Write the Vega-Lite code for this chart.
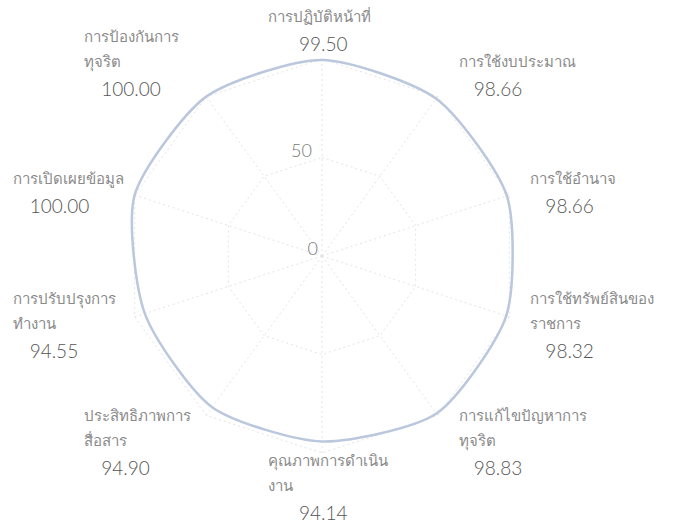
{
  "$schema": "https://vega.github.io/schema/vega-lite/v6.json",
  "width": 682,
  "height": 524,
  "padding": 0,
  "autosize": {"type": "none"},
  "background": "white",
  "config": {"view": {"stroke": null}},
  "data": {
    "values": [
      {"idx": 0, "label": "\nการปฏิบัติหน้าที่", "value": 99.5},
      {"idx": 1, "label": "\nการใช้งบประมาณ", "value": 98.66},
      {"idx": 2, "label": "\nการใช้อำนาจ", "value": 98.66},
      {"idx": 3, "label": "การใช้ทรัพย์สินของ\nราชการ", "value": 98.32},
      {"idx": 4, "label": "การแก้ไขปัญหาการ\nทุจริต", "value": 98.83},
      {"idx": 5, "label": "คุณภาพการดำเนิน\nงาน", "value": 94.14},
      {"idx": 6, "label": "ประสิทธิภาพการ\nสื่อสาร", "value": 94.9},
      {"idx": 7, "label": "การปรับปรุงการ\nทำงาน", "value": 94.55},
      {"idx": 8, "label": "\nการเปิดเผยข้อมูล", "value": 100},
      {"idx": 9, "label": "การป้องกันการ\nทุจริต", "value": 100}
    ]
  },
  "transform": [
    {"calculate": "datum.idx * PI / 5", "as": "ang"},
    {"calculate": "0", "as": "z"},
    {"calculate": "datum.value * sin(datum.ang)", "as": "px"},
    {"calculate": "datum.value * cos(datum.ang)", "as": "py"},
    {"calculate": "100 * sin(datum.ang)", "as": "gx"},
    {"calculate": "100 * cos(datum.ang)", "as": "gy"},
    {"calculate": "50 * sin(datum.ang)", "as": "hx"},
    {"calculate": "50 * cos(datum.ang)", "as": "hy"},
    {"calculate": "119 * cos(datum.ang) - 12", "as": "ly"},
    {"calculate": "sin(datum.ang) > 0.1 ? 'right' : (sin(datum.ang) < -0.1 ? 'left' : 'center')", "as": "side"}
  ],
  "layer": [
    {
      "mark": {"type": "rule", "color": "#e4e4e4", "strokeWidth": 1, "strokeDash": [2, 3]},
      "encoding": {
        "x": {"field": "z", "type": "quantitative", "scale": {"domain": [-163.45, 182.74], "nice": false, "zero": false}, "axis": null},
        "y": {"field": "z", "type": "quantitative", "scale": {"domain": [-136.04, 129.95], "nice": false, "zero": false}, "axis": null},
        "x2": {"field": "gx"},
        "y2": {"field": "gy"}
      }
    },
    {
      "mark": {"type": "line", "interpolate": "linear-closed", "color": "#e4e4e4", "strokeWidth": 1, "strokeDash": [2, 3]},
      "encoding": {
        "x": {"field": "hx", "type": "quantitative", "scale": {"domain": [-163.45, 182.74], "nice": false, "zero": false}, "axis": null},
        "y": {"field": "hy", "type": "quantitative", "scale": {"domain": [-136.04, 129.95], "nice": false, "zero": false}, "axis": null},
        "order": {"field": "idx", "type": "quantitative"}
      }
    },
    {
      "mark": {"type": "line", "interpolate": "linear-closed", "color": "#e4e4e4", "strokeWidth": 1, "strokeDash": [2, 3]},
      "encoding": {
        "x": {"field": "gx", "type": "quantitative", "scale": {"domain": [-163.45, 182.74], "nice": false, "zero": false}, "axis": null},
        "y": {"field": "gy", "type": "quantitative", "scale": {"domain": [-136.04, 129.95], "nice": false, "zero": false}, "axis": null},
        "order": {"field": "idx", "type": "quantitative"}
      }
    },
    {
      "mark": {"type": "line", "interpolate": "cardinal-closed", "tension": 0.3, "color": "#bac7dc", "strokeWidth": 2.5},
      "encoding": {
        "x": {"field": "px", "type": "quantitative", "scale": {"domain": [-163.45, 182.74], "nice": false, "zero": false}, "axis": null},
        "y": {"field": "py", "type": "quantitative", "scale": {"domain": [-136.04, 129.95], "nice": false, "zero": false}, "axis": null},
        "order": {"field": "idx", "type": "quantitative"}
      }
    },
    {
      "transform": [{"filter": "datum.idx == 0"}],
      "mark": {"type": "text", "align": "right", "baseline": "middle", "dx": -4, "dy": -6, "fontSize": 18, "font": "Lato", "fontWeight": 300, "color": "#777"},
      "encoding": {
        "x": {"field": "z", "type": "quantitative", "scale": {"domain": [-163.45, 182.74], "nice": false, "zero": false}, "axis": null},
        "y": {"field": "z", "type": "quantitative", "scale": {"domain": [-136.04, 129.95], "nice": false, "zero": false}, "axis": null},
        "text": {"value": "0"}
      }
    },
    {
      "transform": [{"filter": "datum.idx == 0"}],
      "mark": {"type": "text", "align": "right", "baseline": "middle", "dx": -10, "dy": -6, "fontSize": 18, "font": "Lato", "fontWeight": 300, "color": "#777"},
      "encoding": {
        "x": {"field": "z", "type": "quantitative", "scale": {"domain": [-163.45, 182.74], "nice": false, "zero": false}, "axis": null},
        "y": {"field": "hy", "type": "quantitative", "scale": {"domain": [-136.04, 129.95], "nice": false, "zero": false}, "axis": null},
        "text": {"value": "50"}
      }
    },
    {
      "transform": [{"filter": "datum.side == 'right'"}],
      "mark": {"type": "text", "align": "left", "baseline": "bottom", "dx": 21, "dy": -45, "fontSize": 15, "lineHeight": 25, "lineBreak": "\n", "color": "#8a8a8a"},
      "encoding": {
        "x": {"field": "gx", "type": "quantitative", "scale": {"domain": [-163.45, 182.74], "nice": false, "zero": false}, "axis": null},
        "y": {"field": "ly", "type": "quantitative", "scale": {"domain": [-136.04, 129.95], "nice": false, "zero": false}, "axis": null},
        "text": {"field": "label", "type": "nominal"}
      }
    },
    {
      "transform": [{"filter": "datum.side == 'left'"}],
      "mark": {"type": "text", "align": "left", "baseline": "bottom", "dx": -122, "dy": -45, "fontSize": 15, "lineHeight": 25, "lineBreak": "\n", "color": "#8a8a8a"},
      "encoding": {
        "x": {"field": "gx", "type": "quantitative", "scale": {"domain": [-163.45, 182.74], "nice": false, "zero": false}, "axis": null},
        "y": {"field": "ly", "type": "quantitative", "scale": {"domain": [-136.04, 129.95], "nice": false, "zero": false}, "axis": null},
        "text": {"field": "label", "type": "nominal"}
      }
    },
    {
      "transform": [{"filter": "datum.side == 'center'"}],
      "mark": {"type": "text", "align": "left", "baseline": "bottom", "dx": -54, "dy": -45, "fontSize": 15, "lineHeight": 25, "lineBreak": "\n", "color": "#8a8a8a"},
      "encoding": {
        "x": {"field": "gx", "type": "quantitative", "scale": {"domain": [-163.45, 182.74], "nice": false, "zero": false}, "axis": null},
        "y": {"field": "ly", "type": "quantitative", "scale": {"domain": [-136.04, 129.95], "nice": false, "zero": false}, "axis": null},
        "text": {"field": "label", "type": "nominal"}
      }
    },
    {
      "transform": [{"filter": "datum.side == 'right'"}],
      "mark": {"type": "text", "align": "left", "baseline": "middle", "dx": 36, "fontSize": 19, "font": "Lato", "fontWeight": 300, "color": "#555"},
      "encoding": {
        "x": {"field": "gx", "type": "quantitative", "scale": {"domain": [-163.45, 182.74], "nice": false, "zero": false}, "axis": null},
        "y": {"field": "ly", "type": "quantitative", "scale": {"domain": [-136.04, 129.95], "nice": false, "zero": false}, "axis": null},
        "text": {"field": "value", "type": "quantitative", "format": ".2f"}
      }
    },
    {
      "transform": [{"filter": "datum.side == 'left'"}],
      "mark": {"type": "text", "align": "left", "baseline": "middle", "dx": -105, "fontSize": 19, "font": "Lato", "fontWeight": 300, "color": "#555"},
      "encoding": {
        "x": {"field": "gx", "type": "quantitative", "scale": {"domain": [-163.45, 182.74], "nice": false, "zero": false}, "axis": null},
        "y": {"field": "ly", "type": "quantitative", "scale": {"domain": [-136.04, 129.95], "nice": false, "zero": false}, "axis": null},
        "text": {"field": "value", "type": "quantitative", "format": ".2f"}
      }
    },
    {
      "transform": [{"filter": "datum.side == 'center'"}],
      "mark": {"type": "text", "align": "left", "baseline": "middle", "dx": -23, "fontSize": 19, "font": "Lato", "fontWeight": 300, "color": "#555"},
      "encoding": {
        "x": {"field": "gx", "type": "quantitative", "scale": {"domain": [-163.45, 182.74], "nice": false, "zero": false}, "axis": null},
        "y": {"field": "ly", "type": "quantitative", "scale": {"domain": [-136.04, 129.95], "nice": false, "zero": false}, "axis": null},
        "text": {"field": "value", "type": "quantitative", "format": ".2f"}
      }
    }
  ]
}
